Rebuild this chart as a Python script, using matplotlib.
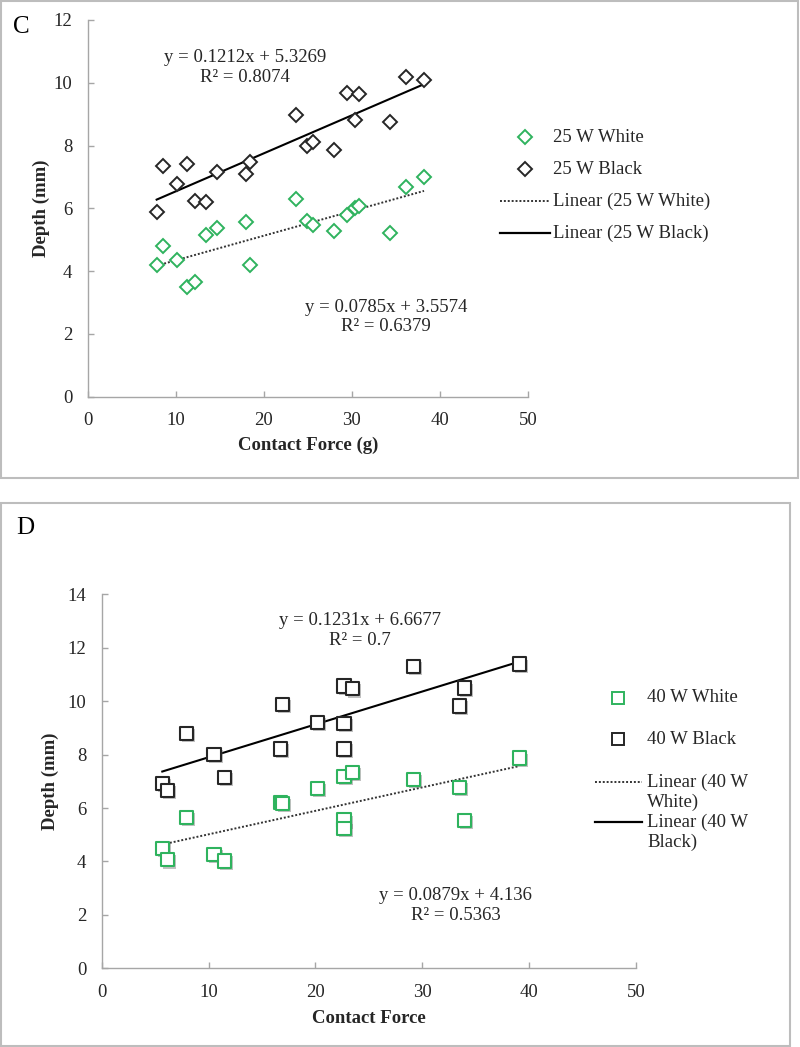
import matplotlib
matplotlib.use("Agg")
import matplotlib.pyplot as plt
import matplotlib.patheffects as pe
from matplotlib.lines import Line2D
from matplotlib.patches import Rectangle
import numpy as np

plt.rcParams['font.family'] = ['Liberation Serif', 'DejaVu Serif']

# ---------------- data ----------------
# Panel C (25 W)
c_force = [7.85, 8.53, 10.2, 11.3, 12.2, 13.5, 14.7, 17.96, 18.5, 23.7,
           24.9, 25.6, 28.0, 29.5, 30.4, 30.85, 34.3, 36.15, 38.2]
c_white = [4.20, 4.80, 4.36, 3.51, 3.66, 5.15, 5.37, 5.55, 4.20, 6.30,
           5.61, 5.48, 5.28, 5.79, 6.00, 6.09, 5.20, 6.69, 7.00]
c_black = [5.87, 7.36, 6.77, 7.40, 6.24, 6.20, 7.16, 7.10, 7.49, 8.97,
           7.99, 8.10, 7.85, 9.66, 8.82, 9.65, 8.75, 10.2, 10.1]
c_fit_white = (0.0785, 3.5574)
c_fit_black = (0.1212, 5.3269)
c_eq_white = "y = 0.0785x + 3.5574\nR\u00b2 = 0.6379"
c_eq_black = "y = 0.1212x + 5.3269\nR\u00b2 = 0.8074"
c_labels = ["25 W White", "25 W Black", "Linear (25 W White)", "Linear (25 W Black)"]

# Panel D (40 W)
d_force = [5.67, 6.14, 7.95, 10.5, 11.5, 16.74, 16.9, 20.2, 22.67, 23.48,
           22.67, 22.67, 29.15, 33.45, 33.98, 39.07]
d_black = [6.93, 6.65, 8.79, 8.01, 7.14, 8.21, 9.87, 9.20, 10.57, 10.46,
           9.16, 8.21, 11.30, 9.82, 10.49, 11.39]
d_white = [4.48, 4.06, 5.64, 4.26, 4.02, 6.20, 6.18, 6.72, 7.18, 7.33,
           5.55, 5.24, 7.08, 6.78, 5.53, 7.87]
d_fit_white = (0.0879, 4.136)
d_fit_black = (0.1231, 6.6677)
d_eq_white = "y = 0.0879x + 4.136\nR\u00b2 = 0.5363"
d_eq_black = "y = 0.1231x + 6.6677\nR\u00b2 = 0.7"
d_labels = ["40 W White", "40 W Black", "Linear (40 W\nWhite)", "Linear (40 W\nBlack)"]

x_ticks = [0, 10, 20, 30, 40, 50]
c_y_ticks = [0, 2, 4, 6, 8, 10, 12]
d_y_ticks = [0, 2, 4, 6, 8, 10, 12, 14]

# ---------------- style ----------------
W, H = 800, 1047
GREEN = '#2fb35e'
BLACK = '#262626'
AXC = '#a6a6a6'
TXT = '#262626'

fig = plt.figure(figsize=(W / 100, H / 100), dpi=100)


def fx(x):
    return x / W


def fy(y):
    return 1 - y / H


# panel frames
fig.add_artist(Rectangle((fx(1), fy(478)), fx(797), 477 / H, transform=fig.transFigure,
                         fill=False, edgecolor='#bdbdbd', lw=1.5))
fig.add_artist(Rectangle((fx(1), fy(1046)), fx(789), 543 / H, transform=fig.transFigure,
                         fill=False, edgecolor='#bdbdbd', lw=1.5))
fig.text(fx(21), fy(27), "C", fontsize=18, ha='center', va='center', color='black')
fig.text(fx(25), fy(528), "D", fontsize=18, ha='center', va='center', color='black')


def style_axes(ax, yticks, ylabel, xlabel, xlab_y, ylab_x):
    ax.set_xlim(0, 50)
    ax.set_ylim(yticks[0], yticks[-1])
    ax.set_xticks(x_ticks)
    ax.set_yticks(yticks)
    for s in ['top', 'right']:
        ax.spines[s].set_visible(False)
    for s in ['left', 'bottom']:
        ax.spines[s].set_color(AXC)
        ax.spines[s].set_linewidth(1.0)
    ax.tick_params(direction='in', length=4, width=1.0, color=AXC, labelsize=13.5,
                   labelcolor=TXT)
    ax.tick_params(axis='x', pad=11)
    ax.tick_params(axis='y', pad=11)
    ax.set_xlabel(xlabel, fontsize=13.5, fontweight='bold', color=TXT)
    ax.set_ylabel(ylabel, fontsize=13.5, fontweight='bold', color=TXT)
    ax.xaxis.set_label_coords(0.5, xlab_y)
    ax.yaxis.set_label_coords(ylab_x, 0.5)
    ax.patch.set_alpha(0)


def trend(ax, xs, fit, **kw):
    xr = np.array([min(xs), max(xs)])
    ax.plot(xr, fit[0] * xr + fit[1], **kw)


# ---------------- Panel C ----------------
axc = fig.add_axes([fx(87.5), fy(396.7), 440.5 / W, 376.7 / H])
style_axes(axc, c_y_ticks, "Depth (mm)", "Contact Force (g)", -0.107, -0.086)
axc.plot(c_force, c_white, linestyle='none', marker='D', ms=6.8, mfc='white',
         mec=GREEN, mew=1.4, zorder=3)
axc.plot(c_force, c_black, linestyle='none', marker='D', ms=6.8, mfc='white',
         mec=BLACK, mew=1.4, zorder=3)
trend(axc, c_force, c_fit_white, color='#333333', lw=1.4, ls=(0, (1, 1)), zorder=2)
trend(axc, c_force, c_fit_black, color='black', lw=1.5, zorder=2)
axc.text(17.87, 10.49, c_eq_black, ha='center', va='center', fontsize=13.5,
         color=TXT, linespacing=1.2)
axc.text(33.9, 2.54, c_eq_white, ha='center', va='center', fontsize=13.5,
         color=TXT, linespacing=1.2)

# ---------------- Panel D ----------------
axd = fig.add_axes([fx(101.7), fy(968.3), 534.3 / W, 374 / H])
style_axes(axd, d_y_ticks, "Depth (mm)", "Contact Force", -0.1115, -0.079)
shadow = [pe.SimplePatchShadow(offset=(1.5, -1.5), shadow_rgbFace='#666666', alpha=0.4),
          pe.Normal()]
axd.scatter(d_force, d_white, marker='s', s=9.5 ** 2, facecolors='white',
            edgecolors=GREEN, linewidths=1.5, zorder=3, path_effects=shadow)
axd.scatter(d_force, d_black, marker='s', s=9.5 ** 2, facecolors='white',
            edgecolors=BLACK, linewidths=1.5, zorder=3, path_effects=shadow)
trend(axd, d_force, d_fit_white, color='#333333', lw=1.4, ls=(0, (1, 1)), zorder=2)
trend(axd, d_force, d_fit_black, color='black', lw=1.5, zorder=2)
axd.text(24.16, 12.64, d_eq_black, ha='center', va='center', fontsize=13.5,
         color=TXT, linespacing=1.2)
axd.text(33.1, 2.34, d_eq_white, ha='center', va='center', fontsize=13.5,
         color=TXT, linespacing=1.2)


# ---------------- legends (drawn in figure space) ----------------
def legend_entry(kind, xc, half, y, color, text, tx, lines_dy=20):
    if kind == 'marker':
        m = 'D' if text.startswith('25') else 's'
        ms = 6.8 if m == 'D' else 8.5
        fig.add_artist(Line2D([fx(xc)], [fy(y)], transform=fig.transFigure,
                              marker=m, ms=ms, mfc='white', mec=color, mew=1.4,
                              linestyle='none'))
    else:
        ls = (0, (1, 1)) if kind == 'dotted' else '-'
        fig.add_artist(Line2D([fx(xc - half), fx(xc + half)], [fy(y), fy(y)],
                              transform=fig.transFigure, color=color,
                              lw=1.4 if kind == 'dotted' else 1.6, ls=ls))
    for i, line in enumerate(text.split('\n')):
        fig.text(fx(tx), fy(y + i * lines_dy), line, fontsize=13.5, color=TXT,
                 ha='left', va='center')


kinds = ['marker', 'marker', 'dotted', 'solid']
c_colors = [GREEN, BLACK, '#333333', 'black']
c_rows = [137, 169, 201, 233]
for k, col, yy, lab in zip(kinds, c_colors, c_rows, c_labels):
    legend_entry(k, 525, 25, yy, col, lab, 553)

d_rows = [698, 739, 782, 822]
for k, col, yy, lab in zip(kinds, c_colors, d_rows, d_labels):
    legend_entry(k, 618, 23.5, yy, col, lab, 647)

fig.savefig("out.png", dpi=100)
